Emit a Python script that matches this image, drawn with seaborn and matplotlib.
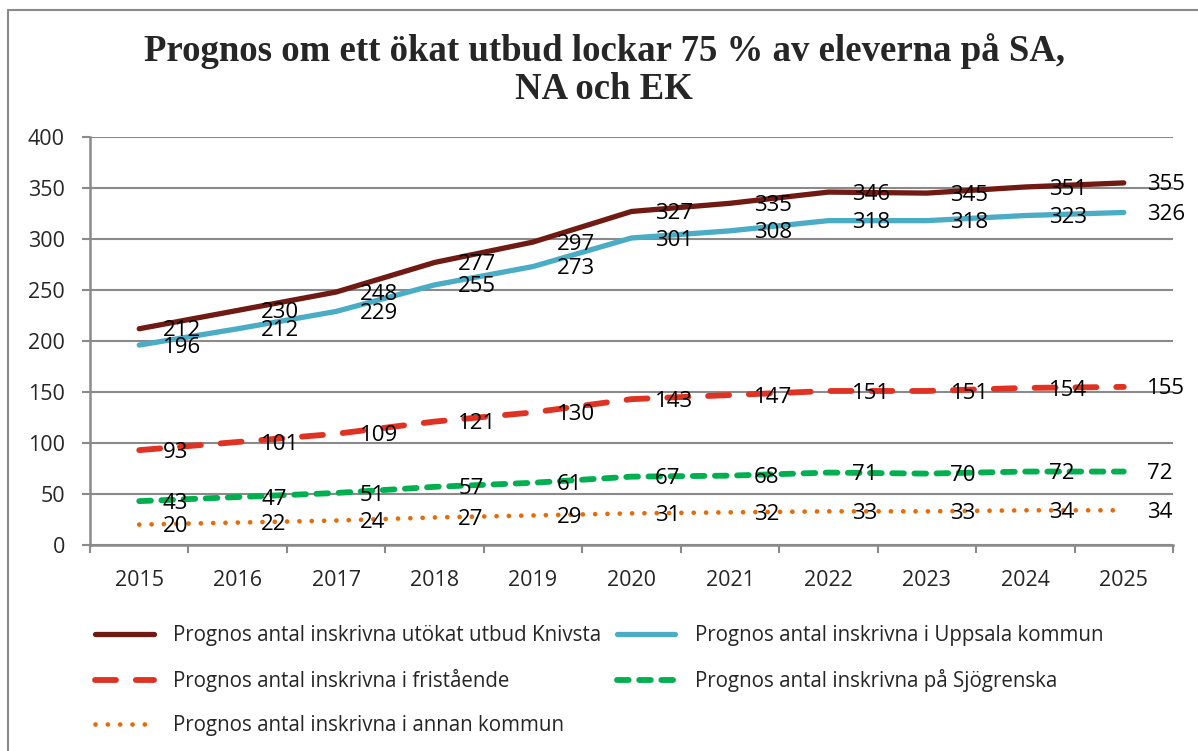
import numpy as np
import pandas as pd
import seaborn as sns
import matplotlib.pyplot as plt
from matplotlib.lines import Line2D
from matplotlib.ticker import MultipleLocator

# ******************
# data
# ******************
years = [2015, 2016, 2017, 2018, 2019, 2020, 2021, 2022, 2023, 2024, 2025]

knivsta = [212, 230, 248, 277, 297, 327, 335, 346, 345, 351, 355]
uppsala = [196, 212, 229, 255, 273, 301, 308, 318, 318, 323, 326]
fristaende = [93, 101, 109, 121, 130, 143, 147, 151, 151, 154, 155]
sjogrenska = [43, 47, 51, 57, 61, 67, 68, 71, 70, 72, 72]
annan = [20, 22, 24, 27, 29, 31, 32, 33, 33, 34, 34]

labels = [
    'Prognos antal inskrivna utökat utbud Knivsta',
    'Prognos antal inskrivna i Uppsala kommun',
    'Prognos antal inskrivna i fristående',
    'Prognos antal inskrivna på Sjögrenska',
    'Prognos antal inskrivna i annan kommun',
]

title = 'Prognos om ett ökat utbud lockar 75 % av eleverna på SA,\nNA och EK'

# ******************
# style
# ******************
sns.set_theme(style='white')
plt.rcParams['font.family'] = ['Open Sans', 'DejaVu Sans']

grey = '#8a8a8a'

series = [
    (knivsta, labels[0], '#6f1a12', 3.8, '-'),
    (uppsala, labels[1], '#4bacc6', 3.8, '-'),
    (fristaende, labels[2], '#e03222', 4.2, (0, (3.6, 3.4))),
    (sjogrenska, labels[3], '#00b050', 4.2, (0, (2.0, 1.8))),
    (annan, labels[4], '#e46c0a', 3.4, (0, (0.01, 2.6))),
]

# ******************
# plot
# ******************
fig = plt.figure(figsize=(11.98, 7.51), dpi=100)
ax = fig.add_axes([90 / 1198, 1 - 545 / 751, (1173 - 90) / 1198, (545 - 137) / 751])

handles = []
for vals, lab, col, lw, ls in series:
    sns.lineplot(x=years, y=vals, ax=ax, color=col, lw=lw, linestyle=ls,
                 dash_capstyle='round', solid_capstyle='round', label=lab,
                 zorder=3)
    handles.append(ax.get_lines()[-1])
    # data labels to the right of each point
    for x, v in zip(years, vals):
        ax.annotate(str(v), (x, v), xytext=(17, -1.5), textcoords='offset points',
                    ha='left', va='center', fontsize=16, color='black', zorder=4)

ax.set_xlim(2014.5, 2025.5)
ax.set_ylim(0, 400)
ax.yaxis.set_major_locator(MultipleLocator(50))
ax.set_xticks(years)
ax.set_xticks(np.arange(2014.5, 2025.6, 1), minor=True)
ax.set_xticklabels([str(y) for y in years])

ax.grid(axis='y', color=grey, lw=1.5)
ax.grid(axis='x', visible=False)
ax.set_axisbelow(True)
for side in ['top', 'right']:
    ax.spines[side].set_visible(False)
for side in ['left', 'bottom']:
    ax.spines[side].set_color(grey)
    ax.spines[side].set_linewidth(1.8)

ax.tick_params(axis='y', which='major', length=6, width=1.5, color=grey,
               direction='out', left=True, pad=12, labelsize=15.5)
ax.tick_params(axis='x', which='major', length=0, pad=18, labelsize=15.5)
ax.tick_params(axis='x', which='minor', length=6, width=1.5, color=grey,
               direction='out', bottom=True)
ax.set_xlabel('')
ax.set_ylabel('')

# legend filled row by row
ax.get_legend().remove()
order = [0, 2, 4, 1, 3]
fig.legend([handles[i] for i in order], [labels[i] for i in order],
           loc='upper left', bbox_to_anchor=(95 / 1198, 1 - 625 / 751),
           ncol=2, frameon=False, fontsize=14.8, borderpad=0, borderaxespad=0,
           handlelength=2.85, handletextpad=0.95, columnspacing=0.75,
           labelspacing=1.12)

fig.text(604 / 1198, 1 - 70 / 751, title, ha='center', va='center',
         fontsize=26.5, fontweight='bold', family='Liberation Serif',
         linespacing=1.1)

# chart border (top and left visible)
fig.add_artist(Line2D([8 / 1198, 1], [1 - 10 / 751, 1 - 10 / 751],
                      transform=fig.transFigure, color=grey, lw=1.5))
fig.add_artist(Line2D([8 / 1198, 8 / 1198], [0, 1 - 10 / 751],
                      transform=fig.transFigure, color=grey, lw=1.5))

fig.savefig('out.png', dpi=100, facecolor='white')
